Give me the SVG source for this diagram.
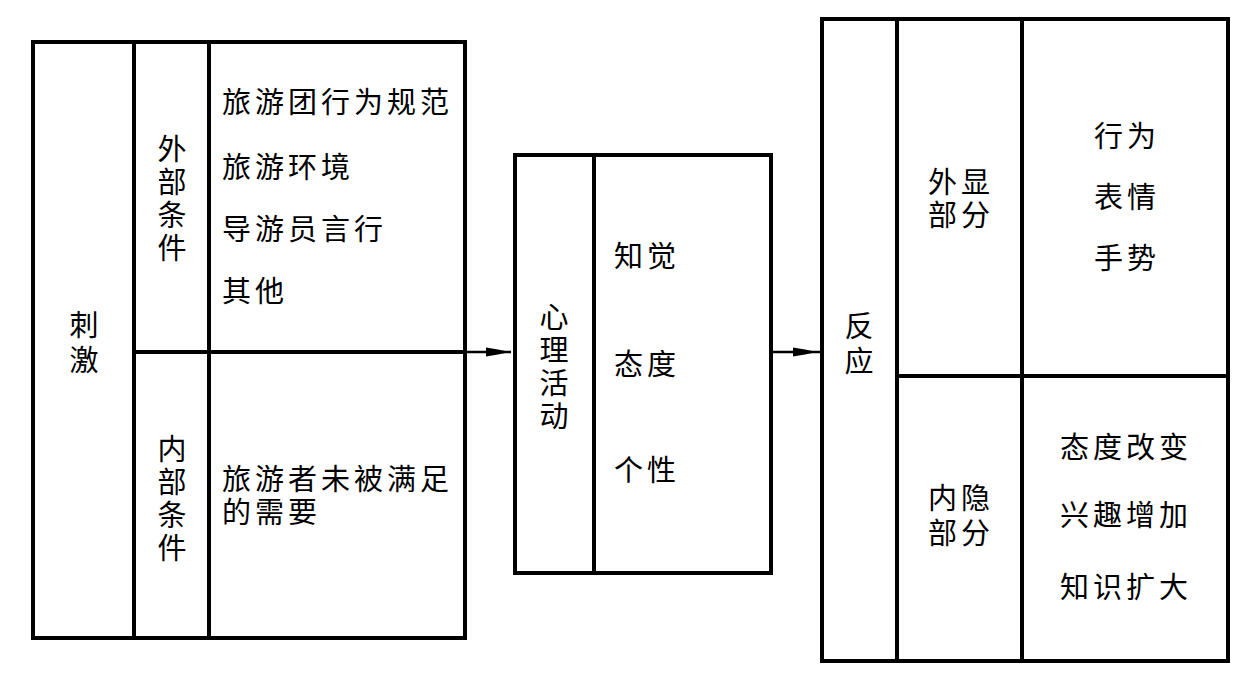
<svg xmlns="http://www.w3.org/2000/svg" width="1247" height="676" viewBox="0 0 1247 676">
<style>
.box{fill:none;stroke:#000;stroke-width:4}
.ln{stroke:#000;stroke-width:4}
.t{font-family:"Noto Sans CJK SC","Noto Sans CJK JP",sans-serif;font-size:29px;fill:#000;letter-spacing:4px}
.v{font-family:"Noto Sans CJK SC","Noto Sans CJK JP",sans-serif;font-size:29px;fill:#000;writing-mode:vertical-rl;letter-spacing:4px}
.conn{stroke:#000;stroke-width:2.5;fill:none}
.head{fill:#000}
</style>
<rect width="1247" height="676" fill="#fff"/>
<g id="stimulus">
<rect class="box" x="33" y="42" width="432" height="596"/>
<line class="ln" x1="134" y1="42" x2="134" y2="638"/>
<line class="ln" x1="209" y1="42" x2="209" y2="638"/>
<line class="ln" x1="134" y1="352" x2="465" y2="352"/>
<text class="v" x="84" y="310" style="letter-spacing:6px">刺激</text>
<text class="v" x="172" y="134">外部条件</text>
<text class="v" x="172" y="434">内部条件</text>
<text class="t" x="222" y="113">旅游团行为规范</text>
<text class="t" x="222" y="178">旅游环境</text>
<text class="t" x="222" y="240">导游员言行</text>
<text class="t" x="222" y="302">其他</text>
<text class="t" x="222" y="490">旅游者未被满足<tspan x="222" dy="33">的需要</tspan></text>
</g>
<g id="psych">
<rect class="box" x="515" y="155" width="256" height="418"/>
<line class="ln" x1="594" y1="155" x2="594" y2="573"/>
<text class="v" x="554" y="302">心理活动</text>
<text class="t" x="614" y="267">知觉</text>
<text class="t" x="614" y="375">态度</text>
<text class="t" x="614" y="481">个性</text>
</g>
<g id="response">
<rect class="box" x="822" y="19" width="406" height="642"/>
<line class="ln" x1="897" y1="19" x2="897" y2="661"/>
<line class="ln" x1="1022" y1="19" x2="1022" y2="661"/>
<line class="ln" x1="897" y1="376" x2="1228" y2="376"/>
<text class="v" x="859" y="311" style="letter-spacing:6px">反应</text>
<text class="t" x="928" y="193">外显<tspan x="928" dy="33">部分</tspan></text>
<text class="t" x="928" y="509">内隐<tspan x="928" dy="35">部分</tspan></text>
<text class="t" x="1094" y="147">行为</text>
<text class="t" x="1094" y="208">表情</text>
<text class="t" x="1094" y="269">手势</text>
<text class="t" x="1060" y="458">态度改变</text>
<text class="t" x="1060" y="526">兴趣增加</text>
<text class="t" x="1060" y="598">知识扩大</text>
</g>
<g id="connectors">
<line class="conn" x1="465" y1="352" x2="511" y2="352"/>
<path class="head" d="M486,347.5 L498,349.5 L510,352 L498,354.5 L486,356.5 Z"/>
<line class="conn" x1="771" y1="352" x2="820" y2="352"/>
<path class="head" d="M793,347.5 L805,349.5 L817,352 L805,354.5 L793,356.5 Z"/>
</g>
</svg>
